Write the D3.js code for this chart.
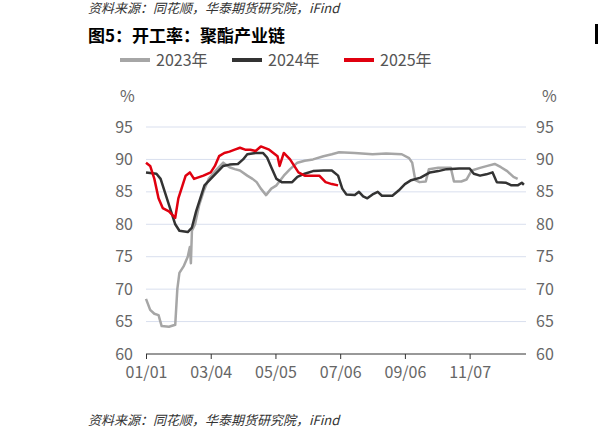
<!DOCTYPE html><html><head><meta charset="utf-8"><script src="https://cdn.jsdelivr.net/npm/d3@7"></script>
<style>body{margin:0;background:#fff}text{font-family:"Noto Sans CJK SC","Noto Sans",sans-serif}</style></head><body><svg id="c" width="598" height="443"></svg><script>
const xTicks=[0,62,124,186,248,310];
const xLabels=["01/01","03/04","05/05","07/06","09/06","11/07"];
const yTicks=[60,65,70,75,80,85,90,95];
const s2023=[[0,68.5],[4,66.8],[8,66.2],[12,66],[15,64.3],[22,64.2],[28,64.5],[30,70],[32,72.5],[36,73.5],[40,75],[42,76.5],[43,74],[44,79],[47,80],[51,83],[55,85],[60,87],[68,88.5],[74,89.5],[80,88.8],[85,88.5],[90,88.3],[97,87.5],[102,87],[106,86.5],[110,85.5],[115,84.5],[120,85.5],[125,86],[132,87.5],[138,88.5],[145,89.5],[152,89.8],[160,90],[170,90.5],[178,90.8],[185,91.1],[200,91],[217,90.8],[230,90.9],[245,90.8],[252,90.2],[255,89.5],[258,86.8],[262,86.5],[268,86.6],[271,88.5],[280,88.7],[292,88.7],[295,86.6],[302,86.6],[307,86.9],[312,88.3],[320,88.7],[327,89],[334,89.3],[340,88.8],[346,88.2],[352,87.3],[356,87]];
const s2024=[[0,88],[10,87.8],[14,87],[18,85],[24,82],[28,80],[32,79],[40,78.8],[44,79.5],[48,82],[52,84],[56,86],[62,87],[68,88],[74,89],[80,89.2],[88,89.3],[93,90],[97,90.8],[105,91],[112,91],[116,90.3],[120,88.8],[125,87],[130,86.5],[140,86.5],[145,87.3],[152,87.8],[160,88.2],[170,88.3],[178,88.3],[184,87.5],[188,85.5],[192,84.6],[200,84.5],[204,85],[208,84.3],[212,84],[217,84.6],[222,85],[226,84.4],[236,84.4],[242,85.2],[248,86.2],[254,86.8],[263,87.2],[272,88],[280,88.2],[288,88.5],[300,88.6],[310,88.6],[314,87.8],[320,87.5],[326,87.7],[332,88],[336,86.5],[345,86.4],[350,86],[356,86],[360,86.4],[362,86.1]];
const s2025=[[0,89.5],[4,89],[8,87],[12,84],[16,82.5],[22,82],[28,81],[31,84],[35,86],[38,87.5],[42,88],[46,87],[55,87.5],[62,88],[66,89],[70,90.5],[75,91],[80,91.2],[85,91.5],[90,91.8],[95,91.5],[100,91.5],[105,91.3],[110,92],[118,91.5],[122,91],[126,90.5],[128,89],[132,91],[138,90],[142,89],[146,88],[152,87.5],[160,87.5],[166,87.5],[172,86.5],[178,86.2],[184,86]];
const series=[{n:"2023年",d:s2023,c:"#a6a6a6"},{n:"2024年",d:s2024,c:"#333333"},{n:"2025年",d:s2025,c:"#e0000f"}];
const svg=d3.select("#c");
const x=d3.scaleLinear().domain([0,364]).range([146,526]);
const y=d3.scaleLinear().domain([60,95]).range([354,127]);
svg.append("text").attr("x",88).attr("y",13).attr("font-size",13).attr("font-style","italic").attr("fill","#333").text("资料来源：同花顺，华泰期货研究院，iFind");
svg.append("text").attr("x",88).attr("y",42).attr("font-size",17).attr("font-weight","bold").attr("fill","#000").text("图5：开工率：聚酯产业链");
svg.append("rect").attr("x",595).attr("y",24).attr("width",3).attr("height",20).attr("fill","#000");
const lg=svg.append("g");
series.forEach((s,i)=>{const lx=120+i*112;lg.append("line").attr("x1",lx).attr("x2",lx+30).attr("y1",60).attr("y2",60).attr("stroke",s.c).attr("stroke-width",4);
lg.append("text").attr("x",lx+36).attr("y",66).attr("font-size",16).attr("fill","#555").text(s.n);});
svg.selectAll(".g").data(yTicks.slice(1)).join("line").attr("x1",146).attr("x2",526).attr("y1",d=>y(d)).attr("y2",d=>y(d)).attr("stroke","#d9dfee").attr("stroke-width",1);
const ya=svg.append("g").attr("transform","translate(136,0)").call(d3.axisLeft(y).tickValues(yTicks).tickSize(0));
const yb=svg.append("g").attr("transform","translate(536,0)").call(d3.axisRight(y).tickValues(yTicks).tickSize(0));
[ya,yb].forEach(g=>{g.select(".domain").remove();g.selectAll("text").attr("font-size",16).attr("fill","#666").attr("font-family","Noto Sans");});
yb.selectAll("text").attr("x",0).attr("text-anchor","start");
svg.append("text").attr("x",120).attr("y",102).attr("font-size",16).attr("fill","#666").text("%");
svg.append("text").attr("x",542).attr("y",102).attr("font-size",16).attr("fill","#666").text("%");
const xa=svg.append("g").attr("transform","translate(0,354)").call(d3.axisBottom(x).tickValues(xTicks).tickFormat((d,i)=>xLabels[i]).tickSize(5).tickSizeOuter(0));
xa.select(".domain").attr("d","M146,0H526").attr("stroke","#333");
xa.selectAll("line").attr("stroke","#333");
xa.selectAll("text").attr("font-size",16).attr("fill","#666").attr("font-family","Noto Sans").attr("dy","1.0em");
const line=d3.line().x(d=>x(d[0])).y(d=>y(d[1]));
series.forEach(s=>svg.append("path").attr("d",line(s.d)).attr("fill","none").attr("stroke",s.c).attr("stroke-width",2.5).attr("stroke-linejoin","round"));
svg.append("text").attr("x",88).attr("y",425).attr("font-size",13).attr("font-style","italic").attr("fill","#333").text("资料来源：同花顺，华泰期货研究院，iFind");
</script></body></html>
